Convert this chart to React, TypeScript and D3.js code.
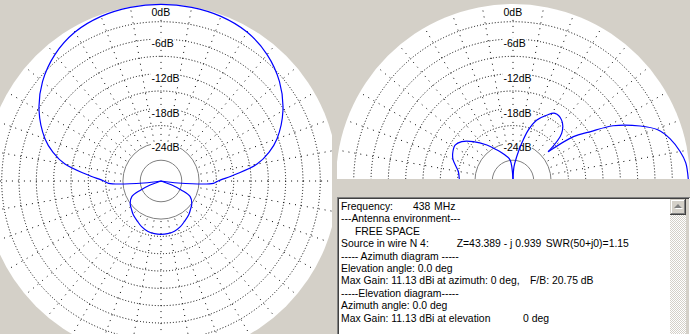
import React from 'react';
import * as d3 from 'd3';

const W = 690;
const H = 334;

// Azimuth pattern (deg clockwise from forward = up), right half; mirrored for left half
const azAngles = [0, 10, 20, 30, 40, 50, 60, 70, 75, 80, 85, 90, 92.5, 96.7, 100, 111, 114, 118, 126, 134, 141, 150, 157, 165, 173, 180];
const azGain = [0, -0.05, -0.25, -0.8, -2.0, -3.8, -6.2, -9.2, -11.2, -13.7, -17.7, -20.7, -21.5, -27.6, -40, -28.3, -26.7, -24.9, -24.0, -23.5, -23.0, -22.5, -22.0, -21.6, -21.4, -21.36];

// Elevation pattern (deg above forward horizon, 0..180)
const elAngles = [0, 6, 10, 15, 19.5, 23.4, 28.9, 32.6, 36.3, 39.7, 44.4, 51.4, 58.2, 62.9, 68.8, 73.3, 77, 81.3, 86, 90, 98, 107, 117.7, 126, 135.3, 142.5, 148.2, 155.3, 160.6, 170.4, 178, 180];
const elGain = [-0.2, -0.5, -1.2, -2.4, -4.0, -6.6, -10.8, -14.8, -17.6, -22.7, -18.8, -17.1, -16.8, -17.8, -19.3, -21.4, -23.9, -26.3, -28.1, -30.3, -26.9, -25.9, -24.5, -22.9, -20.9, -19.4, -18.8, -19.1, -19.6, -21.0, -21.3, -21.4];

const ringDb = [-3, -6, -9, -12, -15, -18, -21];
const refRingDb = [-24, -27];
const labelDb = [0, -6, -12, -18, -24];
const spokeDeg = d3.range(0, 360, 10);

const infoLines: string[][] = [
  ['Frequency:', '438', 'MHz'],
  ['---Antenna environment---'],
  ['FREE SPACE'],
  ['Source in wire N 4:', 'Z=43.389 - j 0.939', 'SWR(50+j0)=1.15'],
  ['----- Azimuth diagram -----'],
  ['Elevation angle: 0.0 deg'],
  ['Max Gain: 11.13 dBi', 'at azimuth: 0 deg,', 'F/B: 20.75 dB'],
  ['-----Elevation diagram-----'],
  ['Azimuth angle: 0.0 deg'],
  ['Max Gain: 11.13 dBi at elevation', '0 deg'],
];
const infoColumns: number[][] = [
  [341, 413, 434],
  [341],
  [355],
  [341, 456.7, 545.7],
  [341],
  [341],
  [341, 437, 530],
  [341],
  [341],
  [341, 523],
];

const BG = '#d4d0c8';
const FONT = '"Liberation Sans", Arial, sans-serif';

const R = 176.6;
const rScale = d3.scaleLinear().domain([-30.6, 0]).range([0, R]).clamp(true);
const rad = (d: number) => (d * Math.PI) / 180;

const lineGen = d3
  .lineRadial<{ a: number; g: number }>()
  .angle((p) => rad(p.a))
  .radius((p) => rScale(p.g))
  .curve(d3.curveCatmullRom.alpha(0.5));

const charW: Record<string, number> = { '-': 3.5, d: 5.84, B: 7.0 };
const labelWidth = (s: string) => s.split('').reduce((acc, c) => acc + (charW[c] ?? 5.84), 0);

function Grid({ cx, cy }: { cx: number; cy: number }) {
  const r0 = rScale(-24) + 2;
  return (
    <g>
      {spokeDeg.map((a) => (
        <line
          key={'s' + a}
          x1={cx + r0 * Math.sin(rad(a))}
          y1={cy - r0 * Math.cos(rad(a))}
          x2={cx + 178 * Math.sin(rad(a))}
          y2={cy - 178 * Math.cos(rad(a))}
          stroke="#000"
          strokeWidth={1}
          strokeDasharray="1 5"
        />
      ))}
      {ringDb.map((d) => (
        <circle key={'r' + d} cx={cx} cy={cy} r={rScale(d)} fill="none" stroke="#000" strokeWidth={1} strokeDasharray="1 2" />
      ))}
      {refRingDb.map((d) => (
        <circle key={'g' + d} cx={cx} cy={cy} r={rScale(d)} fill="none" stroke="#808080" strokeWidth={1} />
      ))}
    </g>
  );
}

function Labels({ cx, cy }: { cx: number; cy: number }) {
  return (
    <g>
      {labelDb.map((d) => {
        const txt = `${d}dB`;
        const yc = Math.max(cy - rScale(d) + 4.5, 11.7);
        const w = labelWidth(txt);
        return (
          <g key={'l' + d}>
            <rect x={cx - 10} y={yc - 5.5} width={w + 1} height={11} fill="#fff" />
            <text x={cx - 9.5} y={yc + 3.8} fontSize={10.5} fontFamily={FONT} fill="#000">
              {txt}
            </text>
          </g>
        );
      })}
    </g>
  );
}

export default function App() {
  const cxL = 161, cyL = 181;
  const cxR = 513, cyR = 181;

  const right = azAngles.map((a, i) => ({ a, g: azGain[i] }));
  const mainRight = right.filter((p) => p.a <= 100);
  const mainLeft = mainRight.filter((p) => p.a > 0).map((p) => ({ a: -p.a, g: p.g })).reverse();
  const mainLobe = [...mainLeft, ...mainRight];
  const backRight = right.filter((p) => p.a >= 100);
  const backLeft = backRight.filter((p) => p.a < 180).map((p) => ({ a: 360 - p.a, g: p.g })).reverse();
  const backLobe = [...backRight, ...backLeft];

  const el = elAngles.map((e, i) => ({ a: 90 - e, g: elGain[i], e }));
  const elSeg1 = el.filter((p) => p.e <= 39.7);
  const elSeg2 = el.filter((p) => p.e >= 39.7 && p.e <= 90);
  const elSeg3 = el.filter((p) => p.e >= 90);

  const blue = { fill: 'none', stroke: '#0000ff', strokeWidth: 1.2 };

  return (
    <svg width={W} height={H} viewBox={`0 0 ${W} ${H}`} style={{ position: 'fixed', left: 0, top: 0, display: 'block' }}>
      <defs>
        <clipPath id="clipL">
          <rect x={0} y={0} width={332} height={H} />
        </clipPath>
        <clipPath id="clipR">
          <rect x={337} y={0} width={W - 337} height={179} />
        </clipPath>
        <pattern id="chk" width={2} height={2} patternUnits="userSpaceOnUse">
          <rect width={2} height={2} fill="#fff" />
          <rect width={1} height={1} fill={BG} />
          <rect x={1} y={1} width={1} height={1} fill={BG} />
        </pattern>
      </defs>
      <rect x={0} y={0} width={W} height={H} fill={BG} />

      {/* Azimuth diagram */}
      <g clipPath="url(#clipL)">
        <circle cx={cxL} cy={cyL} r={177} fill="#fff" />
        <Grid cx={cxL} cy={cyL} />
        <Labels cx={cxL} cy={cyL} />
        <g transform={`translate(${cxL},${cyL})`}>
          <path d={lineGen(mainLobe) || ''} {...blue} />
          <path d={lineGen(backLobe) || ''} {...blue} />
        </g>
      </g>

      {/* Elevation diagram */}
      <g clipPath="url(#clipR)">
        <circle cx={cxR} cy={cyR} r={177} fill="#fff" />
        <Grid cx={cxR} cy={cyR} />
        <Labels cx={cxR} cy={cyR} />
        <g transform={`translate(${cxR},${cyR})`}>
          <path d={lineGen(elSeg1) || ''} {...blue} />
          <path d={lineGen(elSeg2) || ''} {...blue} />
          <path d={lineGen(elSeg3) || ''} {...blue} />
        </g>
      </g>

      {/* Info box */}
      <g>
        <line x1={337.5} y1={197} x2={337.5} y2={H} stroke="#808080" />
        <line x1={337} y1={197.5} x2={W} y2={197.5} stroke="#808080" />
        <line x1={338.5} y1={198} x2={338.5} y2={H} stroke="#404040" />
        <line x1={338} y1={198.5} x2={W - 1} y2={198.5} stroke="#404040" />
        <rect x={339} y={199} width={331} height={H - 199} fill="#fff" />
        <rect x={670} y={199} width={16} height={H - 199} fill="url(#chk)" />
        <rect x={686} y={199} width={3} height={H - 199} fill={BG} />
        <line x1={689.5} y1={198} x2={689.5} y2={H} stroke="#fff" />
        {/* up button */}
        <rect x={670} y={199} width={16} height={16} fill={BG} />
        <line x1={671.5} y1={200} x2={671.5} y2={214} stroke="#fff" />
        <line x1={671} y1={200.5} x2={685} y2={200.5} stroke="#fff" />
        <line x1={685.5} y1={199} x2={685.5} y2={215} stroke="#404040" />
        <line x1={670} y1={214.5} x2={686} y2={214.5} stroke="#404040" />
        <line x1={684.5} y1={200} x2={684.5} y2={214} stroke="#808080" />
        <line x1={671} y1={213.5} x2={685} y2={213.5} stroke="#808080" />
        <path d="M679,205 L683,209 L675,209 Z" fill="#fff" />
        <path d="M678,204 L682,208 L674,208 Z" fill="#808080" />
        {infoLines.map((segs, i) => (
          <text key={'t' + i} y={210 + i * 12.4} fontSize={10.4} fontFamily={FONT} fill="#000">
            {segs.map((s, j) => (
              <tspan key={j} x={infoColumns[i][j]}>
                {s}
              </tspan>
            ))}
          </text>
        ))}
      </g>
    </svg>
  );
}
